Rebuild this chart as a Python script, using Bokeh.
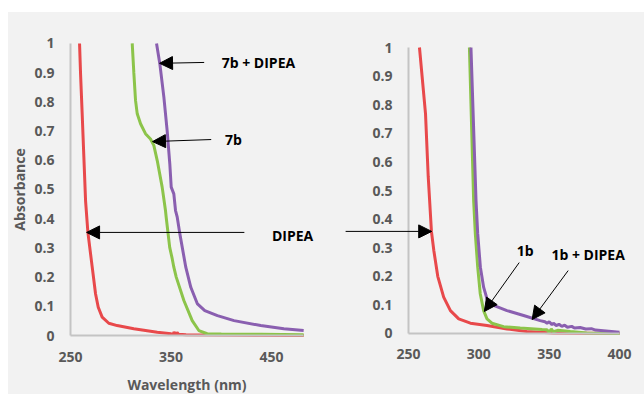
from bokeh.plotting import figure
from bokeh.models import FixedTicker, Label, Arrow, NormalHead, Range1d
from bokeh.layouts import row
from bokeh.embed import file_html
from bokeh.resources import INLINE

# ---------------- data ----------------
# Left panel: 7b system
dipea_l_wl = [259, 260, 261.6, 263.3, 265, 267.3, 271.6, 274.9, 277.6, 281.5, 288.1, 296.4, 313, 336.3,
              350, 352, 353, 354.5, 356, 357.5, 365, 400, 440, 482]
dipea_l_abs = [1.0, 0.896, 0.76, 0.61, 0.46, 0.353, 0.234, 0.143, 0.097, 0.063, 0.042, 0.034, 0.023, 0.011,
               0.006, 0.003, 0.012, 0.002, 0.01, 0.004, 0.003, 0.002, 0.001, 0.0]

b7_wl = [311.4, 313, 314.7, 316.4, 319.7, 324.6, 329.6, 332.9, 336.3, 341.2, 344.5, 345.2, 348.7, 351.2,
         352.8, 355.2, 362.8, 371.1, 377.7, 386, 400, 440, 482]
b7_abs = [1.0, 0.9, 0.805, 0.759, 0.725, 0.691, 0.673, 0.651, 0.599, 0.508, 0.428, 0.405, 0.302, 0.263,
          0.234, 0.2, 0.12, 0.051, 0.017, 0.006, 0.005, 0.004, 0.003]

b7_dipea_wl = [335.6, 338.9, 342.9, 346.2, 348.8, 350.2, 352.8, 354.5, 356.2, 358.8, 364.7, 369.7,
               376.3, 383.6, 396.2, 412.7, 439.3, 462.3, 482]
b7_dipea_abs = [1.0, 0.93, 0.816, 0.70, 0.588, 0.508, 0.485, 0.428, 0.405, 0.348, 0.234, 0.165,
                0.108, 0.085, 0.068, 0.051, 0.034, 0.023, 0.017]

# Right panel: 1b system
dipea_r_wl = [257.8, 262.1, 264, 266.3, 268, 270.8, 275, 279.8, 285.7, 294, 305.8, 320, 334, 353, 400]
dipea_r_abs = [1.0, 0.768, 0.55, 0.357, 0.29, 0.2, 0.127, 0.08, 0.051, 0.036, 0.028, 0.016, 0.007, 0.002, 0.0]

b1_wl = [293.3, 296.3, 297.5, 299.2, 301, 303.4, 305.8, 309.3, 317.6, 329.4, 345, 348.4, 350, 351.5,
         353, 356, 365, 376.7, 400]
b1_abs = [1.0, 0.465, 0.349, 0.232, 0.139, 0.08, 0.051, 0.036, 0.024, 0.019, 0.014, 0.013, 0.004, 0.016,
          0.006, 0.011, 0.007, 0.002, 0.0]

b1_dipea_wl = [294.4, 298, 299.2, 301.1, 303.4, 305.8, 310.5, 320, 331.8, 343.6, 347, 348.5, 350, 352,
               353, 355, 357, 359, 361, 363, 366, 368, 372, 376, 380, 383, 388.5, 400]
b1_dipea_abs = [1.0, 0.465, 0.349, 0.232, 0.162, 0.121, 0.098, 0.08, 0.063, 0.045, 0.041, 0.036, 0.041,
                0.031, 0.036, 0.028, 0.032, 0.025, 0.029, 0.022, 0.025, 0.019, 0.021, 0.016, 0.017, 0.012,
                0.01, 0.004]

y_ticks = [0, 0.1, 0.2, 0.3, 0.4, 0.5, 0.6, 0.7, 0.8, 0.9, 1]
y_tick_labels = ["0", "0.1", "0.2", "0.3", "0.4", "0.5", "0.6", "0.7", "0.8", "0.9", "1"]
x_ticks_left = [250, 350, 450]
x_ticks_right = [250, 300, 350, 400]

RED = "#e8494b"
GREEN = "#8cc44a"
PURPLE = "#8a5fb0"
BG = "#f2f2f2"
GREY_TXT = "#595959"
FONT = "Open Sans"


def make_fig(w, h, xr, yr, xbounds, xt):
    p = figure(width=w, height=h, x_range=Range1d(*xr), y_range=Range1d(*yr),
               output_backend="svg", toolbar_location=None,
               min_border=0, min_border_left=0, min_border_right=0,
               min_border_top=0, min_border_bottom=0)
    p.background_fill_color = BG
    p.border_fill_color = BG
    p.outline_line_color = None
    p.grid.visible = False
    for ax in (p.xaxis[0], p.yaxis[0]):
        ax.axis_line_color = "#c4c4c4"
        ax.axis_line_width = 2
        ax.major_tick_line_color = None
        ax.minor_tick_line_color = None
        ax.major_tick_in = 0
        ax.major_tick_out = 0
        ax.minor_tick_in = 0
        ax.minor_tick_out = 0
        ax.major_label_text_font = FONT
        ax.major_label_text_font_style = "bold"
        ax.major_label_text_font_size = "14px"
        ax.major_label_text_color = GREY_TXT
        ax.axis_label_text_font = FONT
        ax.axis_label_text_font_style = "bold"
        ax.axis_label_text_font_size = "14px"
        ax.axis_label_text_color = GREY_TXT
    ya = p.yaxis[0]
    ya.ticker = FixedTicker(ticks=y_ticks)
    ya.major_label_overrides = {t: l for t, l in zip(y_ticks, y_tick_labels)}
    ya.fixed_location = xbounds[0]
    ya.bounds = (0, 1)
    ya.major_label_standoff = 16
    xa = p.xaxis[0]
    xa.ticker = FixedTicker(ticks=xt)
    xa.fixed_location = 0
    xa.bounds = xbounds
    xa.major_label_standoff = 16
    return p


def arrow(p, xs, ys, xe, ye):
    p.add_layout(Arrow(end=NormalHead(size=13, fill_color="black", line_color="black", line_width=1),
                       x_start=xs, y_start=ys, x_end=xe, y_end=ye,
                       line_color="black", line_width=1))


def label(p, x, y, txt):
    p.add_layout(Label(x=x, y=y, text=txt, text_font=FONT, text_font_style="bold",
                       text_font_size="14px", text_color="black",
                       text_align="center", text_baseline="middle"))


# ---------------- left figure (x 8..330, y 12..394 on the page) ----------------
p1 = make_fig(322, 382, (188.3, 508.7), (-0.202, 1.106), (250, 482), x_ticks_left)
p1.yaxis[0].axis_label = "Absorbance"
p1.yaxis[0].axis_label_standoff = 2
p1.xaxis[0].axis_label = "Wavelength (nm)"
p1.xaxis[0].axis_label_standoff = 10

p1.line(dipea_l_wl, dipea_l_abs, line_color=RED, line_width=3)
p1.line(b7_wl, b7_abs, line_color=GREEN, line_width=3)
p1.line(b7_dipea_wl, b7_dipea_abs, line_color=PURPLE, line_width=3)

label(p1, 437, 0.935, "7b + DIPEA")
arrow(p1, 383, 0.935, 338.6, 0.932)
label(p1, 412, 0.671, "7b")
arrow(p1, 390, 0.671, 331.6, 0.664)
label(p1, 471, 0.342, "DIPEA")
arrow(p1, 423, 0.353, 266, 0.353)

# ---------------- right figure (x 330..644) ----------------
p2 = make_fig(314, 382, (194.55, 417.77), (-0.2133, 1.1224), (250, 400), x_ticks_right)

p2.line(dipea_r_wl, dipea_r_abs, line_color=RED, line_width=3)
p2.line(b1_wl, b1_abs, line_color=GREEN, line_width=3)
p2.line(b1_dipea_wl, b1_dipea_abs, line_color=PURPLE, line_width=3)

arrow(p2, 205.3, 0.357, 266.5, 0.357)
label(p2, 333, 0.29, "1b")
arrow(p2, 328.7, 0.248, 303.9, 0.077)
label(p2, 377.7, 0.276, "1b + DIPEA")
arrow(p2, 363.5, 0.22, 337.9, 0.049)

layout = row(p1, p2, margin=(12, 0, 0, 8), styles={"background-color": BG})
open("out.html", "w").write(file_html(layout, INLINE))
